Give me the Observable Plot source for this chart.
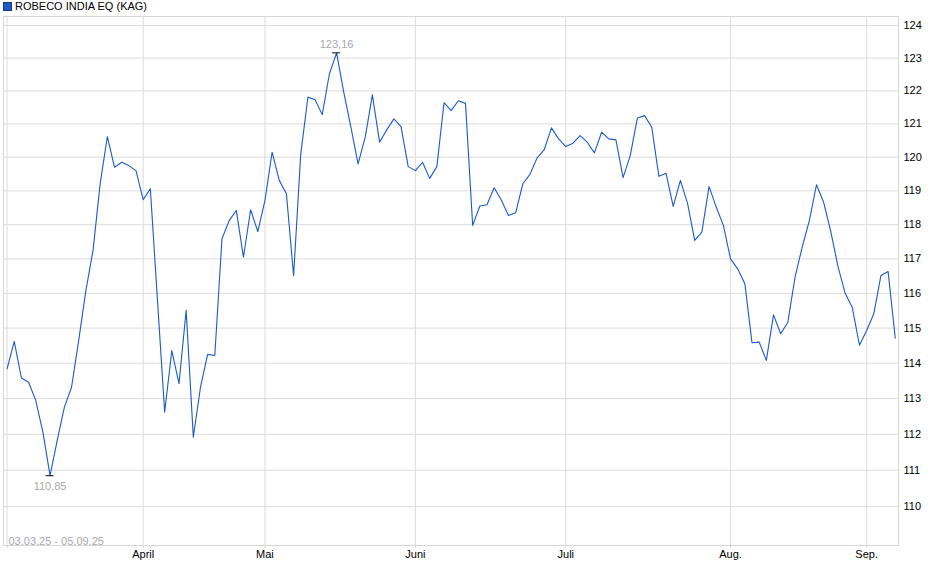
<!DOCTYPE html>
<html><head><meta charset="utf-8">
<script src="https://cdn.jsdelivr.net/npm/d3@7"></script>
<script src="https://cdn.jsdelivr.net/npm/@observablehq/plot@0.6"></script>
<style>
body{margin:0;background:#fff;font-family:"Liberation Sans",Arial,sans-serif;}
#legend{height:13px;font-size:11px;line-height:12px;color:#000;position:relative;}
#legend span.sw{position:absolute;left:3px;top:2px;width:7px;height:7px;background:#1c5bc5;border:1px solid #123a80;}
#legend span.t{position:absolute;left:15px;top:0px;}
</style></head>
<body>
<div id="legend"><span class="sw"></span><span class="t">ROBECO INDIA EQ (KAG)</span></div>
<div id="chart"></div>
<script>
const seriesName = "ROBECO INDIA EQ (KAG)";
const values = [
113.84,114.62,113.58,113.46,112.95,112.06,110.85,111.83,112.76,113.32,
114.65,116.08,117.25,119.22,120.62,119.70,119.85,119.75,119.60,118.74,
119.06,115.79,112.62,114.36,113.42,115.51,111.92,113.32,114.25,114.22,
117.59,118.12,118.42,117.05,118.44,117.80,118.71,120.15,119.31,118.91,
116.51,120.10,121.81,121.73,121.28,122.52,123.16,121.96,120.90,119.80,
120.60,121.88,120.45,120.82,121.15,120.92,119.72,119.60,119.85,119.37,
119.72,121.64,121.40,121.70,121.62,117.98,118.55,118.59,119.09,118.73,
118.27,118.35,119.21,119.49,119.98,120.23,120.88,120.55,120.32,120.42,
120.65,120.45,120.13,120.75,120.55,120.52,119.39,120.05,121.18,121.25,
120.90,119.43,119.52,118.54,119.31,118.63,117.54,117.78,119.13,118.52,
117.98,117.00,116.71,116.28,114.58,114.60,114.08,115.38,114.84,115.17,
116.46,117.34,118.12,119.18,118.66,117.80,116.78,116.00,115.59,114.51,
114.93,115.41,116.52,116.63,114.71
];
const monthTickIdx = [0, 19, 36, 57, 78, 101, 120];
const monthLabels = ["", "April", "Mai", "Juni", "Juli", "Aug.", "Sep."];
const yTicks = [110,111,112,113,114,115,116,117,118,119,120,121,122,123,124];
const rangeLabel = "03.03.25 - 05.09.25";

const data = values.map((v, i) => ({i, v}));
const iMax = d3.maxIndex(values), iMin = d3.minIndex(values);
const fmt = v => v.toFixed(2).replace(".", ",");
const extremes = [
  {i: iMax, v: values[iMax], label: fmt(values[iMax]), pos: "top"},
  {i: iMin, v: values[iMin], label: fmt(values[iMin]), pos: "bottom"}
];
const labelMap = new Map(monthTickIdx.map((t, k) => [t, monthLabels[k]]));

const chart = Plot.plot({
  width: 940, height: 566,
  marginLeft: 3, marginRight: 42, marginTop: 3, marginBottom: 34,
  style: {fontFamily: '"Liberation Sans", Arial, sans-serif', fontSize: "11px", color: "#000", background: "#fff"},
  x: {type: "linear", domain: [-0.5, 124.45]},
  y: {type: "log", domain: [108.94, 124.28]},
  marks: [
    Plot.gridY(yTicks, {stroke: "#dcdcdc", strokeOpacity: 1}),
    Plot.gridX(monthTickIdx, {stroke: "#dcdcdc", strokeOpacity: 1}),
    Plot.frame({stroke: "#d6d6d6"}),
    Plot.axisX(monthTickIdx, {anchor: "bottom", tickSize: 3, tickPadding: 2, stroke: "#d6d6d6",
      tickFormat: d => labelMap.get(d), fill: "#000", label: null}),
    Plot.axisY(yTicks, {anchor: "right", tickSize: 0, tickPadding: 5, tickFormat: d => String(d), fill: "#000", label: null}),
    Plot.line(data, {x: "i", y: "v", stroke: "#1c5bc5", strokeWidth: 1.1}),
    Plot.ruleY(extremes, {y: "v", x1: d => d.i - 0.55, x2: d => d.i + 0.55, stroke: "#000", strokeWidth: 1}),
    Plot.text(extremes.filter(d => d.pos === "top"), {x: "i", y: "v", text: "label", dy: -8, fill: "#a8a8ae", fontSize: 11}),
    Plot.text(extremes.filter(d => d.pos === "bottom"), {x: "i", y: "v", text: "label", dy: 11, fill: "#a8a8ae", fontSize: 11}),
    Plot.text([rangeLabel], {frameAnchor: "bottom-left", text: d => d, dx: 5, dy: -1, fill: "#a8a8ae", fontSize: 11, textAnchor: "start"})
  ]
});
document.getElementById("chart").appendChild(chart);
</script>
</body></html>
